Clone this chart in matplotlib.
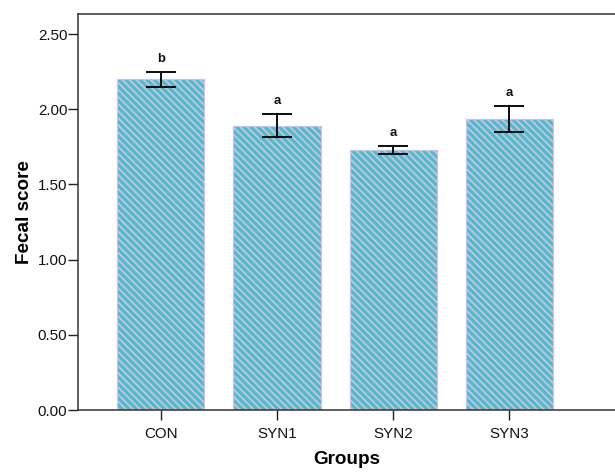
import matplotlib
matplotlib.use("Agg")
import matplotlib.pyplot as plt
from matplotlib.transforms import offset_copy

groups = ["CON", "SYN1", "SYN2", "SYN3"]
means = [2.20, 1.89, 1.73, 1.935]
errors = [0.05, 0.077, 0.027, 0.085]
letters = ["b", "a", "a", "a"]
yticks = [0.0, 0.5, 1.0, 1.5, 2.0, 2.5]

DPI = 85
plt.rcParams['font.family'] = ['Liberation Sans', 'DejaVu Sans']
plt.rcParams['hatch.linewidth'] = 1.5

fig = plt.figure(figsize=(615 / DPI, 472 / DPI), dpi=DPI)
ax = fig.add_axes([78 / 615, 62 / 472, 1 - 78 / 615 + 0.002, (410 - 14) / 472])

teal = "#4bbfc5"
lav = "#d2bdec"
x = list(range(len(groups)))
ax.bar(x, means, width=0.75, color=teal, edgecolor=lav, linewidth=1.0,
       hatch="\\\\\\\\", zorder=2)
ax.errorbar(x, means, yerr=errors, fmt="none", ecolor="#111111",
            elinewidth=1.7, capsize=12.5, capthick=1.7, zorder=3)

trans = offset_copy(ax.transData, fig=fig, x=0, y=6, units="points")
for xi, m, e, l in zip(x, means, errors, letters):
    ax.text(xi, m + e, l, transform=trans, ha="center", va="bottom",
            fontsize=11, fontweight="bold", color="#111111")

ax.set_xlim(-0.711, 3.918)
ax.set_ylim(0, 2.633)
ax.set_yticks(yticks)
ax.set_yticklabels([f"{v:.2f}" for v in yticks])
ax.set_xticks(x)
ax.set_xticklabels(groups)

for s in ["left", "bottom", "top"]:
    ax.spines[s].set_color("#333333")
    ax.spines[s].set_linewidth(1.3)
ax.spines["right"].set_visible(False)

ax.tick_params(axis="y", direction="out", length=8.5, width=1.2, pad=0.5,
               labelsize=12.8, colors="#222222")
ax.tick_params(axis="x", direction="out", length=8.5, width=1.2, pad=6,
               labelsize=12.8, colors="#222222")
for lbl in ax.get_xticklabels() + ax.get_yticklabels():
    lbl.set_color("#111111")

ax.set_ylabel("Fecal score", fontsize=16, fontweight="bold", labelpad=4)
ax.set_xlabel("Groups", fontsize=16, fontweight="bold", labelpad=8)

fig.savefig("out.png", dpi=DPI)
